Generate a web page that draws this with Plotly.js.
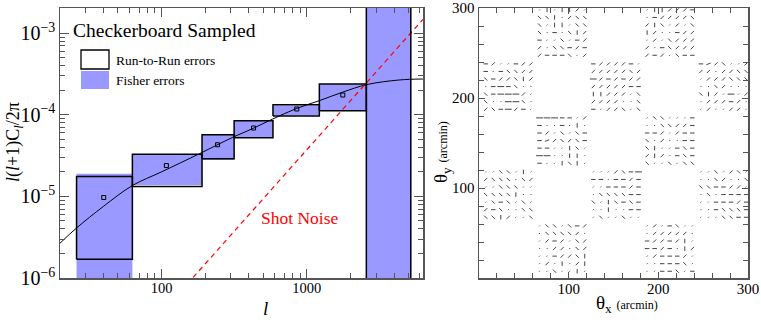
<!DOCTYPE html>
<html>
<head>
<meta charset="utf-8">
<script src="https://cdn.plot.ly/plotly-3.0.1.min.js"></script>
<style>html,body{margin:0;padding:0;background:#fff;}#chart{width:761px;height:325px;}</style>
</head>
<body>
<div id="chart"></div>
<script>
// ---------- Left panel data ----------
const binLo  = [26, 63, 190, 316, 585, 1220, 2570];
const binHi  = [63, 190, 316, 585, 1220, 2570, 5200];
const runLo  = [1.7e-6, 1.32e-5, 2.9e-5, 5.25e-5, 9.7e-5, 1.12e-4, 1e-7];
const runHi  = [1.75e-5, 3.3e-5, 5.7e-5, 8.45e-5, 1.33e-4, 2.39e-4, 1e-1];
const fishLo = [1e-7, 1.38e-5, 2.8e-5, 5.25e-5, 9.8e-5, 1.13e-4, 1e-7];
const fishHi = [1.9e-5, 3.3e-5, 5.7e-5, 8.4e-5, 1.3e-4, 2.38e-4, 1e-1];
const pointL = [40, 108, 243, 430, 853, 1770];
const pointC = [9.7e-6, 2.39e-5, 4.3e-5, 6.9e-5, 1.18e-4, 1.75e-4];
const curveL = [20, 26, 40, 63, 100, 183, 309, 425, 583, 853, 1230, 1770, 2590, 4370, 6300];
const curveC = [2.67e-6, 4.1e-6, 7.6e-6, 1.36e-5, 2.0e-5, 3.35e-5, 5.3e-5, 6.8e-5, 8.9e-5, 1.2e-4, 1.5e-4, 1.9e-4, 2.35e-4, 2.68e-4, 2.75e-4];
const shotL = [150, 6300];
const shotC = [8.4e-7, 1.48e-3];

// ---------- Right panel data ----------
// checkerboard cells (60 arcmin), whisker orientation codes, rows listed top to bottom
// '-' 0deg, '~' 22deg, '/' 45deg, '|' 90deg, '\\' 135deg, '.' short, '=' long horizontal
const patchCol = [1, 3, 0, 2, 4, 1, 3, 0, 2, 4, 1, 3];
const patchRow = [0, 0, 1, 1, 1, 2, 2, 3, 3, 3, 4, 4];
const patchWhiskers = [
  [".\\\\.\\-/", ".\\\\\\\\/.", "./-/.\\/", "..//.\\/", "..-//\\|", "./.|./|", "..\\..|."],
  ["./.-\\..", "./////.", "-//-/|.", "--/-.|/", "./---/.", "..---\\.", "..--\\.-"],
  ["..\\\\.|.", "/\\\\\\.\\/", "..\\\\\\..", "\\\\\\\\|..", ".\\-\\.\\.", "/-\\..\\\\", "\\\\|/..\\"],
  [".../\\-=", "--.--/-", "..---/-", ".\\\\\\\\--", "\\.|\\-\\-", "..|..--", ".\\..\\.."],
  ["..\\./\\.", "..\\/..\\", "\\\\--//.", ".\\.----", "..---/-", "..-\\\\\\-", "...\\\\--"],
  ["===--./", "-..-.|.", "-/.\\.\\-", "-~/\\/\\-", "--..|\\.", "==..||.", "-..|\\|."],
  [".\\\\...-", "..\\\\//-", "--/./--", "\\./..--", "\\|..-\\-", "/|/.-\\-", "\\..\\.\\\\"],
  ["-/..-//", "-.-\\\\//", "\\-//\\|/", ".-=-\\..", "\\-===/.", "\\..==\\.", "/\\-=/-."],
  ["-////-.", "/////\\/", "=/-/-//", "/////--", "||///.\\", "////..\\", "-.//\\.\\"],
  ["-~/\\../", "//.//\\\\", ".///\\\\\\", "..\\/...", "\\|/.=./", ".///-/.", "./..//."],
  [".|.||/.", "\\\\|./\\\\", "\\.||.\\\\", "\\.-.\\|/", "-..\\.-/", "/.\\\\-/-", "/---\\./"],
  [".||///-", ".-////\\", "/|\\./.\\", "|/..-//", "./.\\///", "/.-\\///", "/-/.\\--"]
];
const cellSize = 60;
const whiskerOffsets = [7.5, 15.9, 24.3, 32.7, 41.1, 49.5, 57.9];

// ---------- Build traces ----------
function boxes(lo, hi, ylo, yhi) {
  const x = [], y = [];
  for (let i = 0; i < lo.length; i++) {
    x.push(lo[i], hi[i], hi[i], lo[i], lo[i], null);
    y.push(ylo[i], ylo[i], yhi[i], yhi[i], ylo[i], null);
  }
  return {x, y};
}
const fb = boxes(binLo, binHi, fishLo, fishHi);
const rb = boxes(binLo, binHi, runLo, runHi);

const angleOf = {'-': 0, '~': 22, '/': 45, '|': 90, '\\': 135, '.': 45, '=': 0};
const halfLen = {'-': 2.5, '~': 2.5, '/': 2.5, '|': 2.5, '\\': 2.5, '.': 0.7, '=': 3.8};
const wx = [], wy = [];
patchWhiskers.forEach((rows, p) => {
  const x0 = patchCol[p] * cellSize, y0 = patchRow[p] * cellSize;
  rows.forEach((row, r) => {
    const cy = y0 + whiskerOffsets[rows.length - 1 - r];
    for (let c = 0; c < row.length; c++) {
      const ch = row[c];
      const cx = x0 + whiskerOffsets[c];
      const a = angleOf[ch] * Math.PI / 180, h = halfLen[ch];
      wx.push(cx - h * Math.cos(a), cx + h * Math.cos(a), null);
      wy.push(cy - h * Math.sin(a), cy + h * Math.sin(a), null);
    }
  });
});

const FISH = 'rgb(153,153,255)';
const traces = [
  {x: fb.x, y: fb.y, xaxis: 'x', yaxis: 'y', mode: 'lines', fill: 'toself', fillcolor: FISH,
   line: {width: 0, color: FISH}, hoverinfo: 'skip'},
  {x: curveL, y: curveC, xaxis: 'x', yaxis: 'y', mode: 'lines', line: {color: 'black', width: 1, shape: 'spline'}},
  {x: shotL, y: shotC, xaxis: 'x', yaxis: 'y', mode: 'lines', line: {color: 'red', width: 1.2, dash: '5px,4px'}},
  {x: rb.x, y: rb.y, xaxis: 'x', yaxis: 'y', mode: 'lines', line: {color: 'black', width: 1.5}},
  {x: pointL, y: pointC, xaxis: 'x', yaxis: 'y', mode: 'markers',
   marker: {symbol: 'square-open', size: 4, color: 'black', line: {width: 1}}},
  {x: wx, y: wy, xaxis: 'x2', yaxis: 'y2', mode: 'lines', line: {color: '#222', width: 0.85}, connectgaps: false}
];

const FONT = 'Liberation Serif, Times New Roman, serif';
const AX = '#555';
const W = 761, H = 325;
const px = v => v / W, py = v => 1 - v / H;

const layout = {
  width: W, height: H,
  margin: {l: 0, r: 0, t: 0, b: 0},
  paper_bgcolor: 'white', plot_bgcolor: 'white',
  showlegend: false,
  font: {family: FONT, color: 'black'},
  xaxis: {
    type: 'log', domain: [px(60), px(423)], range: [Math.log10(20), 3.8],
    dtick: 1, exponentformat: 'none', showgrid: false, zeroline: false,
    showline: true, linecolor: AX, linewidth: 1.5, mirror: 'ticks',
    ticks: 'inside', ticklen: 9, tickwidth: 1, tickcolor: AX, ticklabelstandoff: -4,
    tickfont: {family: FONT, size: 14.5, color: 'black'},
    minor: {dtick: 'D1', ticks: 'inside', ticklen: 5, tickcolor: AX, tickwidth: 1, showgrid: false}
  },
  yaxis: {
    type: 'log', domain: [1 - 278 / H, 1 - 8 / H], range: [-6, -2.69],
    dtick: 1, exponentformat: 'power', showgrid: false, zeroline: false,
    showline: true, linecolor: AX, linewidth: 1.5, mirror: 'ticks',
    ticks: 'inside', ticklen: 9, tickwidth: 1, tickcolor: AX,
    tickfont: {family: FONT, size: 16, color: 'black'},
    minor: {dtick: 'D1', ticks: 'inside', ticklen: 5, tickcolor: AX, tickwidth: 1, showgrid: false}
  },
  xaxis2: {
    domain: [px(479), px(748)], range: [0, 300], anchor: 'y2',
    tickvals: [100, 200, 300], ticktext: ['100', '200', '300'],
    showgrid: false, zeroline: false,
    showline: true, linecolor: AX, linewidth: 1.5, mirror: 'ticks',
    ticks: 'inside', ticklen: 6, tickwidth: 1, tickcolor: AX, ticklabelstandoff: -4,
    tickfont: {family: FONT, size: 15, color: 'black'},
    minor: {tickmode: 'linear', tick0: 0, dtick: 20, ticks: 'inside', ticklen: 5, tickcolor: AX, tickwidth: 1, showgrid: false}
  },
  yaxis2: {
    domain: [1 - 278 / H, 1 - 8 / H], range: [0, 300], anchor: 'x2',
    tickvals: [100, 200, 300], ticktext: ['100', '200', '300'],
    showgrid: false, zeroline: false,
    showline: true, linecolor: AX, linewidth: 1.5, mirror: 'ticks',
    ticks: 'inside', ticklen: 6, tickwidth: 1, tickcolor: AX,
    tickfont: {family: FONT, size: 15, color: 'black'},
    minor: {tickmode: 'linear', tick0: 0, dtick: 20, ticks: 'inside', ticklen: 5, tickcolor: AX, tickwidth: 1, showgrid: false}
  },
  shapes: [
    {type: 'rect', xref: 'paper', yref: 'paper', x0: px(81), x1: px(109), y0: py(69), y1: py(50),
     line: {color: 'black', width: 1.3}, fillcolor: 'white'},
    {type: 'rect', xref: 'paper', yref: 'paper', x0: px(81), x1: px(109), y0: py(89), y1: py(71),
     line: {width: 0}, fillcolor: FISH}
  ],
  annotations: [
    {text: 'Checkerboard Sampled', xref: 'paper', yref: 'paper', x: px(164), y: py(30),
     xanchor: 'center', yanchor: 'middle', showarrow: false, font: {family: FONT, size: 19.5, color: 'black'}},
    {text: 'Run-to-Run errors', xref: 'paper', yref: 'paper', x: px(114), y: py(60),
     xanchor: 'left', yanchor: 'middle', showarrow: false, font: {family: FONT, size: 13.5, color: 'black'}},
    {text: 'Fisher errors', xref: 'paper', yref: 'paper', x: px(114), y: py(80),
     xanchor: 'left', yanchor: 'middle', showarrow: false, font: {family: FONT, size: 13.5, color: 'black'}},
    {text: 'Shot Noise', xref: 'paper', yref: 'paper', x: px(300), y: py(218),
     xanchor: 'center', yanchor: 'middle', showarrow: false, font: {family: FONT, size: 17.5, color: 'red'}},
    {text: '<i>l</i>(<i>l</i>+1)C<sub><i>l</i></sub>/2π', xref: 'paper', yref: 'paper', x: px(14), y: py(142),
     xanchor: 'center', yanchor: 'middle', textangle: -90, showarrow: false, font: {family: FONT, size: 18, color: 'black'}},
    {text: '<i>l</i>', xref: 'paper', yref: 'paper', x: px(265), y: py(308),
     xanchor: 'center', yanchor: 'middle', showarrow: false, font: {family: FONT, size: 19, color: 'black'}},
    {text: 'θ<sub>y</sub> <span style="font-size:12px">(arcmin)</span>', xref: 'paper', yref: 'paper', x: px(442), y: py(152),
     xanchor: 'center', yanchor: 'middle', textangle: -90, showarrow: false, font: {family: FONT, size: 19, color: 'black'}},
    {text: 'θ<sub>x</sub> <span style="font-size:12px">(arcmin)</span>', xref: 'paper', yref: 'paper', x: px(627), y: py(304),
     xanchor: 'center', yanchor: 'middle', showarrow: false, font: {family: FONT, size: 19, color: 'black'}}
  ]
};

Plotly.newPlot('chart', traces, layout, {staticPlot: true, displayModeBar: false});
</script>
</body>
</html>
